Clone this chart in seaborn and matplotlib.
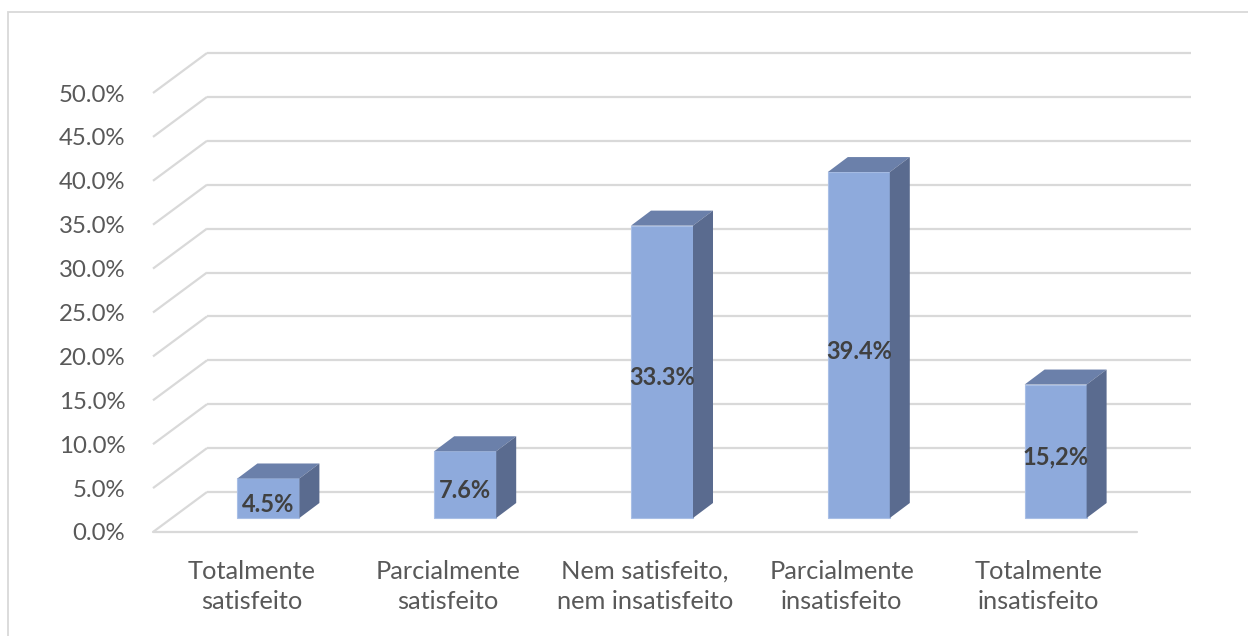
import matplotlib
matplotlib.use("Agg")
import matplotlib.pyplot as plt
from matplotlib.patches import Polygon, Rectangle
import seaborn as sns

# ---- data ----
categories = ["Totalmente\nsatisfeito", "Parcialmente\nsatisfeito",
              "Nem satisfeito,\nnem insatisfeito", "Parcialmente\ninsatisfeito",
              "Totalmente\ninsatisfeito"]
values = [0.045, 0.076, 0.333, 0.394, 0.152]
value_labels = ["4.5%", "7.6%", "33.3%", "39.4%", "15,2%"]
yticks = [0.0, 0.05, 0.10, 0.15, 0.20, 0.25, 0.30, 0.35, 0.40, 0.45, 0.50]
ytick_labels = ["0.0%", "5.0%", "10.0%", "15.0%", "20.0%", "25.0%",
                "30.0%", "35.0%", "40.0%", "45.0%", "50.0%"]

# ---- style ----
sns.set_theme(style="white")
plt.rcParams['font.family'] = ['Lato', 'DejaVu Sans']

W, H = 1248, 636
fig = plt.figure(figsize=(W / 100, H / 100), dpi=100)
fig.patch.set_facecolor("white")

# chart-area border
fig.patches.append(Rectangle((8 / W, -0.1), 1.2, (H - 12) / H + 0.1,
                             transform=fig.transFigure, fill=False,
                             edgecolor="#d9d9d9", linewidth=1.3))

# front plane of the 3-D box
left_px, right_px, base_px, top_px = 153, 1137, 532, 93
ax = fig.add_axes([left_px / W, (H - base_px) / H,
                   (right_px - left_px) / W, (base_px - top_px) / H])
ax.set_xlim(-0.5, 4.5)
ax.set_ylim(0, 0.5)
ax.set_facecolor("none")

px_x = (right_px - left_px) / 5.0        # pixels per category unit
px_y = (base_px - top_px) / 0.5          # pixels per 1.0 value

def dx(p):
    return p / px_x

def dy(p):
    return p / px_y

grid_c = "#d9d9d9"
bx, by = dx(54), dy(40)
for v in yticks:
    ax.plot([-0.5, -0.5 + bx], [v, v + by], color=grid_c, lw=1.6,
            clip_on=False, zorder=1, solid_capstyle="butt")
    ax.plot([-0.5 + bx, 4.5 + bx], [v + by, v + by], color=grid_c, lw=1.6,
            clip_on=False, zorder=1, solid_capstyle="butt")
ax.plot([-0.5, 4.5], [0, 0], color=grid_c, lw=1.6, clip_on=False, zorder=1)

front_c, top_c, side_c = "#8eaadc", "#6b80aa", "#5a6b8f"
bar_w = 62 / px_x
sns.barplot(x=list(range(len(values))), y=values, width=bar_w, color=front_c,
            saturation=1, ax=ax, native_scale=True, zorder=3)

fx, fy = dx(17), dy(14)     # bar front offset from floor front
ddx, ddy = dx(20), dy(15)   # bar depth
for patch, lab in zip(ax.patches, value_labels):
    patch.set_x(patch.get_x() + fx)
    patch.set_y(patch.get_y() + fy)
    patch.set_edgecolor("#a9bfe6")
    patch.set_linewidth(0.8)
    patch.set_clip_on(False)
    x, y, w, h = patch.get_x(), patch.get_y(), patch.get_width(), patch.get_height()
    top = Polygon([(x, y + h), (x + w, y + h), (x + w + ddx, y + h + ddy),
                   (x + ddx, y + h + ddy)], closed=True, facecolor=top_c,
                  edgecolor="none", zorder=3, clip_on=False)
    side = Polygon([(x + w, y), (x + w + ddx, y + ddy), (x + w + ddx, y + h + ddy),
                    (x + w, y + h)], closed=True, facecolor=side_c,
                   edgecolor="none", zorder=3, clip_on=False)
    ax.add_patch(top)
    ax.add_patch(side)
    ax.text(x + w / 2, y + h / 2 - dy(6), lab, ha="center", va="center",
            fontsize=17, fontweight="bold", color="#404040", zorder=5)

ax.set_yticks(yticks, ytick_labels)
ax.set_xticks(range(len(categories)), categories)
ax.tick_params(axis="y", length=0, pad=20, labelsize=17.3, labelcolor="#595959")
ax.tick_params(axis="x", length=0, pad=20, labelsize=18.3, labelcolor="#595959")
for t in ax.get_xticklabels():
    t.set_linespacing(1.4)
for s in ax.spines.values():
    s.set_visible(False)
ax.grid(False)
ax.set_xlabel("")
ax.set_ylabel("")

fig.savefig("out.png", dpi=100)
